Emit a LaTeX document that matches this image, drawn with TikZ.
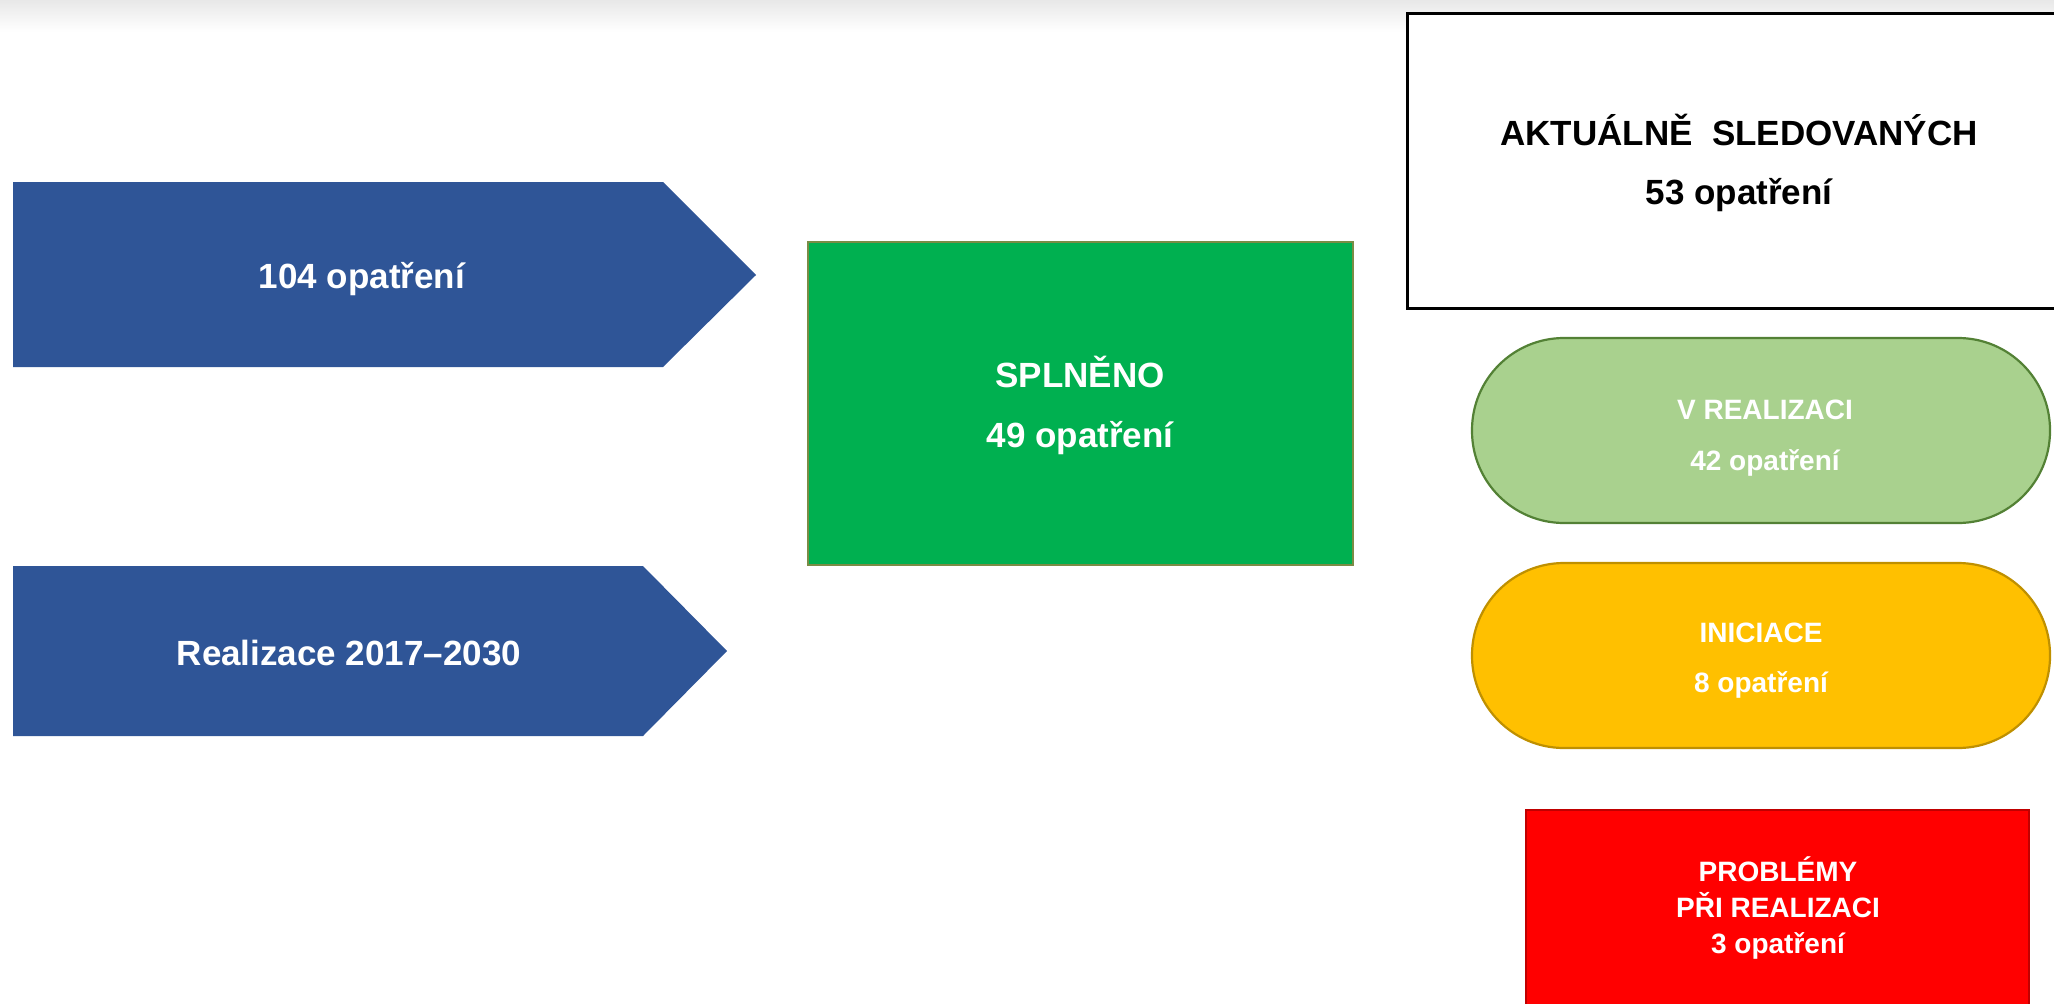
\documentclass[tikz,border=0pt]{standalone}
\usepackage{fontspec}
\setmainfont{Liberation Sans}
\definecolor{arrblue}{HTML}{2F5597}
\definecolor{okgreen}{HTML}{00B050}
\definecolor{okgreenedge}{HTML}{7A8C45}
\definecolor{lgreen}{HTML}{A9D18E}
\definecolor{lgreenedge}{HTML}{538135}
\definecolor{amber}{HTML}{FFC000}
\definecolor{amberedge}{HTML}{BF9000}
\definecolor{alarm}{HTML}{FF0000}
\definecolor{alarmedge}{HTML}{C00000}
\begin{document}
\begin{tikzpicture}[x=1pt,y=-1pt,
  bigtxt/.style={font=\bfseries\fontsize{35}{42}\selectfont, anchor=base, inner sep=0pt},
  smalltxt/.style={font=\bfseries\fontsize{28}{34}\selectfont, anchor=base, inner sep=0pt, text=white},
  pill/.style={line width=2.2pt, rounded corners=92pt}]
\useasboundingbox (0,0) rectangle (2054,1004);
% faint top band
\shade[top color=black!9, bottom color=white] (0,0) rectangle (2054,32);
% arrows
\fill[arrblue] (13,182) -- (663,182) -- (756,275) -- (663,367) -- (13,367) -- cycle;
\fill[arrblue] (13,566) -- (643,566) -- (727,651) -- (643,736) -- (13,736) -- cycle;
\node[bigtxt, text=white] (t104) at (362,288) {104 opatření};
\node[bigtxt, text=white] (treal) at (349,665) {Realizace 2017–2030};
% splneno
\draw[fill=okgreen, draw=okgreenedge, line width=1.5pt] (808,242) rectangle (1353,565);
\node[bigtxt, text=white] (tspl) at (1080,387) {SPLNĚNO};
\node[bigtxt, text=white] (t49) at (1080,447) {49 opatření};
% aktualne
\draw[line width=3pt, fill=white] (1407,13) rectangle (2064,308);
\node[bigtxt, text=black] (takt) at (1739,145) {AKTUÁLNĚ\ \ SLEDOVANÝCH};
\node[bigtxt, text=black] (t53) at (1739,204) {53 opatření};
% pills
\draw[pill, fill=lgreen, draw=lgreenedge] (1472,338) rectangle (2050,523);
\node[smalltxt] (tvr) at (1765,419) {V REALIZACI};
\node[smalltxt] (t42) at (1765,470) {42 opatření};
\draw[pill, fill=amber, draw=amberedge] (1472,563) rectangle (2050,748);
\node[smalltxt] (tini) at (1761,642) {INICIACE};
\node[smalltxt] (t8) at (1761,692) {8 opatření};
% problemy
\draw[fill=alarm, draw=alarmedge, line width=1.5pt] (1526,810) rectangle (2029,1012);
\node[smalltxt] (tprob) at (1778,881) {PROBLÉMY};
\node[smalltxt] (tpri) at (1778,917) {PŘI REALIZACI};
\node[smalltxt] (t3) at (1778,953) {3 opatření};
\end{tikzpicture}
\end{document}
